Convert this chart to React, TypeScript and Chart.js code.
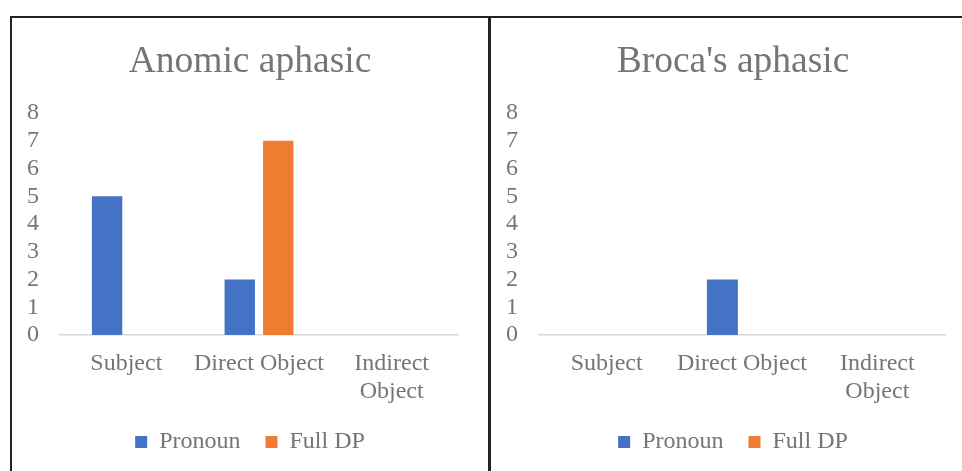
import React, { useEffect, useRef } from "react";
import { Chart, registerables } from "chart.js";

Chart.register(...registerables);

const categories: (string | string[])[] = ["Subject", "Direct Object", ["Indirect", "Object"]];
const seriesNames = ["Pronoun", "Full DP"];
const anomicPronoun = [5, 2, 0];
const anomicFullDP = [0, 7, 0];
const brocaPronoun = [0, 2, 0];
const brocaFullDP = [0, 0, 0];
const yTicks = [0, 1, 2, 3, 4, 5, 6, 7, 8];

const BLUE = "#4472C4";
const ORANGE = "#ED7D31";
const TEXT = "#757575";
const FONT = "'Liberation Serif', 'Times New Roman', serif";

function makeConfig(title: string, pron: number[], full: number[]): any {
  return {
    type: "bar",
    data: {
      labels: categories,
      datasets: [
        { label: seriesNames[0], data: pron, backgroundColor: BLUE, borderWidth: 0, categoryPercentage: 0.58, barPercentage: 0.79 },
        { label: seriesNames[1], data: full, backgroundColor: ORANGE, borderWidth: 0, categoryPercentage: 0.58, barPercentage: 0.79 },
      ],
    },
    options: {
      responsive: false,
      animation: false,
      layout: { padding: { left: 0, right: 0, top: 0, bottom: 7 } },
      plugins: {
        title: {
          display: true,
          text: title,
          color: TEXT,
          font: { family: FONT, size: 37.5, weight: "normal" },
          padding: { top: 22, bottom: 28 },
        },
        legend: {
          display: true,
          position: "bottom",
          labels: {
            color: TEXT,
            font: { family: FONT, size: 24 },
            boxWidth: 12,
            boxHeight: 12,
            padding: 25,
          },
        },
        tooltip: { enabled: false },
      },
      scales: {
        x: {
          grid: { display: false, drawTicks: false },
          border: { display: true, color: "#D9D9D9", width: 1.5 },
          ticks: {
            color: TEXT,
            font: { family: FONT, size: 24, lineHeight: 1.15 },
            padding: 15,
            maxRotation: 0,
            autoSkip: false,
          },
          afterFit: (s: any) => { s.height = 70; },
        },
        y: {
          min: yTicks[0],
          max: yTicks[yTicks.length - 1],
          grid: { display: false, drawTicks: false },
          border: { display: false },
          ticks: {
            stepSize: 1,
            autoSkip: false,
            color: TEXT,
            font: { family: FONT, size: 24 },
            padding: 21,
          },
          afterFit: (s: any) => { s.width = 48; },
        },
        yRight: {
          position: "right",
          display: true,
          min: 0,
          max: 8,
          grid: { display: false, drawTicks: false },
          border: { display: false },
          ticks: { display: false },
          afterFit: (s: any) => { s.width = 30; },
        },
      },
    },
  };
}

function Panel({ title, pron, full, left, width }: { title: string; pron: number[]; full: number[]; left: number; width: number }) {
  const ref = useRef<HTMLCanvasElement>(null);
  useEffect(() => {
    if (!ref.current) return;
    const chart = new Chart(ref.current, makeConfig(title, pron, full));
    return () => chart.destroy();
  }, []);
  return (
    <canvas
      ref={ref}
      width={width}
      height={453}
      style={{ position: "absolute", left, top: 18, width, height: 453, display: "block" }}
    />
  );
}

export default function App() {
  return (
    <div style={{ position: "fixed", left: 0, top: 0, width: 962, height: 471, overflow: "hidden", background: "#fff" }}>
      <div style={{ position: "absolute", left: 10, top: 16, width: 1000, height: 2, background: "#222" }} />
      <div style={{ position: "absolute", left: 10, top: 16, width: 2, height: 500, background: "#222" }} />
      <div style={{ position: "absolute", left: 488, top: 16, width: 3, height: 500, background: "#222" }} />
      <Panel title="Anomic aphasic" pron={anomicPronoun} full={anomicFullDP} left={12} width={476} />
      <Panel title="Broca's aphasic" pron={brocaPronoun} full={brocaFullDP} left={491} width={484} />
    </div>
  );
}
